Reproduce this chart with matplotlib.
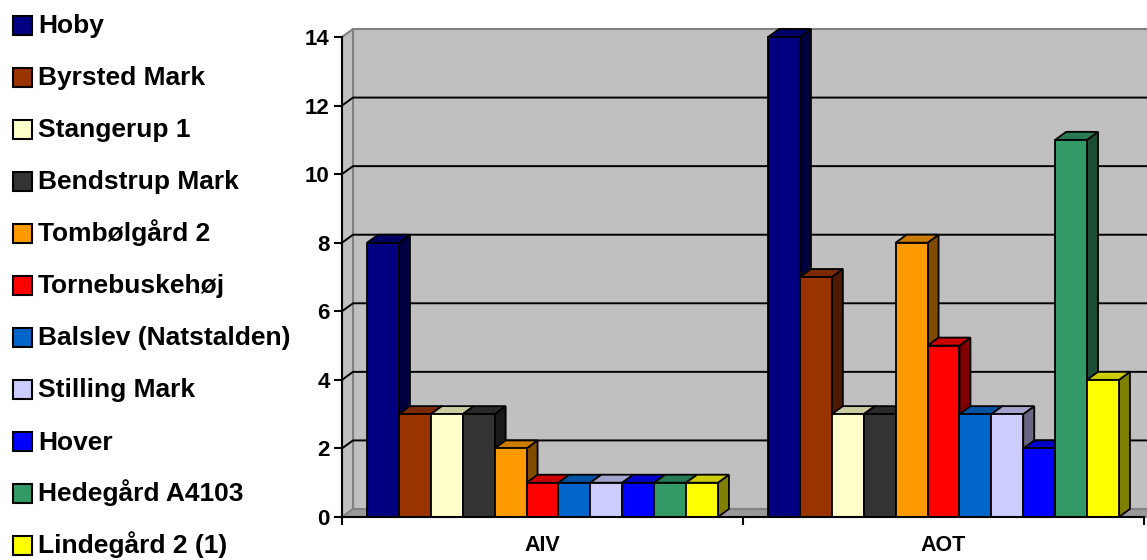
import matplotlib
matplotlib.use('Agg')
import matplotlib.pyplot as plt
from matplotlib.patches import Rectangle, Polygon
import numpy as np

plt.rcParams['font.family'] = ['Liberation Sans', 'DejaVu Sans']
plt.rcParams['font.weight'] = 'bold'

# Data
categories = ['AIV', 'AOT']
sites = ['Hoby', 'Byrsted Mark', 'Stangerup 1', 'Bendstrup Mark', 'Tombølgård 2',
         'Tornebuskehøj', 'Balslev (Natstalden)', 'Stilling Mark', 'Hover',
         'Hedegård A4103', 'Lindegård 2 (1)']
aiv_values = [8, 3, 3, 3, 2, 1, 1, 1, 1, 1, 1]
aot_values = [14, 7, 3, 3, 8, 5, 3, 3, 2, 11, 4]
colors_list = ['#000080', '#993300', '#FFFFCC', '#333333', '#FF9900', '#FF0000',
               '#0066CC', '#CCCCFF', '#0000FF', '#339966', '#FFFF00']
y_ticks = [0, 2, 4, 6, 8, 10, 12, 14]


def shade(c, f):
    rgb = np.array(matplotlib.colors.to_rgb(c))
    return tuple(rgb * f)


W, H = 1147, 560
fig = plt.figure(figsize=(W / 100, H / 100), dpi=100)
fig.patch.set_facecolor('white')

# axes box in pixels: front plane
left_px, right_px, top_px, bottom_px = 342, 1144, 37, 517
ax = fig.add_axes([left_px / W, (H - bottom_px) / H,
                   (right_px - left_px) / W, (bottom_px - top_px) / H])
ax.set_xlim(0, len(categories))
ax.set_ylim(0, 14)
ax.patch.set_visible(False)

# depth of the 3D effect, pixels -> data units
depth_x_px, depth_y_px = 11, 8
dx = depth_x_px * len(categories) / (right_px - left_px)
dy = depth_y_px * 14 / (bottom_px - top_px)
xmax = len(categories)
ymax = 14

# back wall
ax.add_patch(Rectangle((dx, dy), xmax + 0.05, ymax, facecolor='#C0C0C0',
                       edgecolor='#808080', lw=1.5, zorder=0.1, clip_on=False))
# side wall
ax.add_patch(Polygon([(0, 0), (0, ymax), (dx, ymax + dy), (dx, dy)], closed=True,
                     facecolor='#C0C0C0', edgecolor='#808080', lw=1.5,
                     zorder=0.2, clip_on=False))
# floor
ax.add_patch(Polygon([(0, 0), (xmax + 0.05, 0), (xmax + 0.05, dy), (dx, dy)], closed=True,
                     facecolor='#999999', edgecolor='#808080', lw=1.2,
                     zorder=0.2, clip_on=False))

# gridlines on wall
for v in y_ticks[1:-1]:
    ax.plot([0, dx, xmax + 0.05], [v, v + dy, v + dy], color='black', lw=1.4,
            zorder=0.5, clip_on=False, solid_capstyle='butt')

# bars
gap = 0.125
bar_w = (1 - gap) / len(sites)
z = 1.0
for ci, vals in enumerate([aiv_values, aot_values]):
    for si, v in enumerate(vals):
        x0 = ci + gap / 2 + si * bar_w
        c = colors_list[si]
        side = Polygon([(x0 + bar_w, 0), (x0 + bar_w, v), (x0 + bar_w + dx, v + dy),
                        (x0 + bar_w + dx, dy)], closed=True, facecolor=shade(c, 0.5),
                       edgecolor='black', lw=1.3, zorder=z, clip_on=False,
                       joinstyle='miter')
        top = Polygon([(x0, v), (x0 + bar_w, v), (x0 + bar_w + dx, v + dy),
                       (x0 + dx, v + dy)], closed=True, facecolor=shade(c, 0.8),
                      edgecolor='black', lw=1.3, zorder=z, clip_on=False,
                      joinstyle='miter')
        front = Rectangle((x0, 0), bar_w, v, facecolor=c, edgecolor='black',
                          lw=1.3, zorder=z + 0.001, clip_on=False, joinstyle='miter')
        ax.add_patch(side)
        ax.add_patch(top)
        ax.add_patch(front)
        z += 0.01

# axes
for s in ['top', 'right']:
    ax.spines[s].set_visible(False)
for s in ['left', 'bottom']:
    ax.spines[s].set_color('black')
    ax.spines[s].set_linewidth(1.5)
    ax.spines[s].set_zorder(3)

ax.set_yticks(y_ticks)
ax.set_yticklabels([str(t) for t in y_ticks])
ax.tick_params(axis='y', direction='out', length=6, width=1.5, labelsize=16, pad=3)

ax.set_xticks(range(len(categories) + 1))
ax.set_xticklabels([])
ax.set_xticks([i + 0.5 for i in range(len(categories))], minor=True)
ax.set_xticklabels(categories, minor=True)
ax.tick_params(axis='x', which='major', direction='out', length=6, width=1.5)
ax.tick_params(axis='x', which='minor', length=0, labelsize=15.5, pad=13)

# legend
for i, (name, c) in enumerate(zip(sites, colors_list)):
    yc = 25 + 52 * i
    fig.patches.append(Rectangle((13 / W, 1 - (yc + 9.5) / H), 19 / W, 19 / H,
                                 transform=fig.transFigure, facecolor=c,
                                 edgecolor='black', lw=1.5))
    fig.text(38 / W, 1 - (yc + 8.5) / H, name, fontsize=19, fontweight='bold',
             va='baseline', ha='left')

fig.savefig('out.png', dpi=100)
